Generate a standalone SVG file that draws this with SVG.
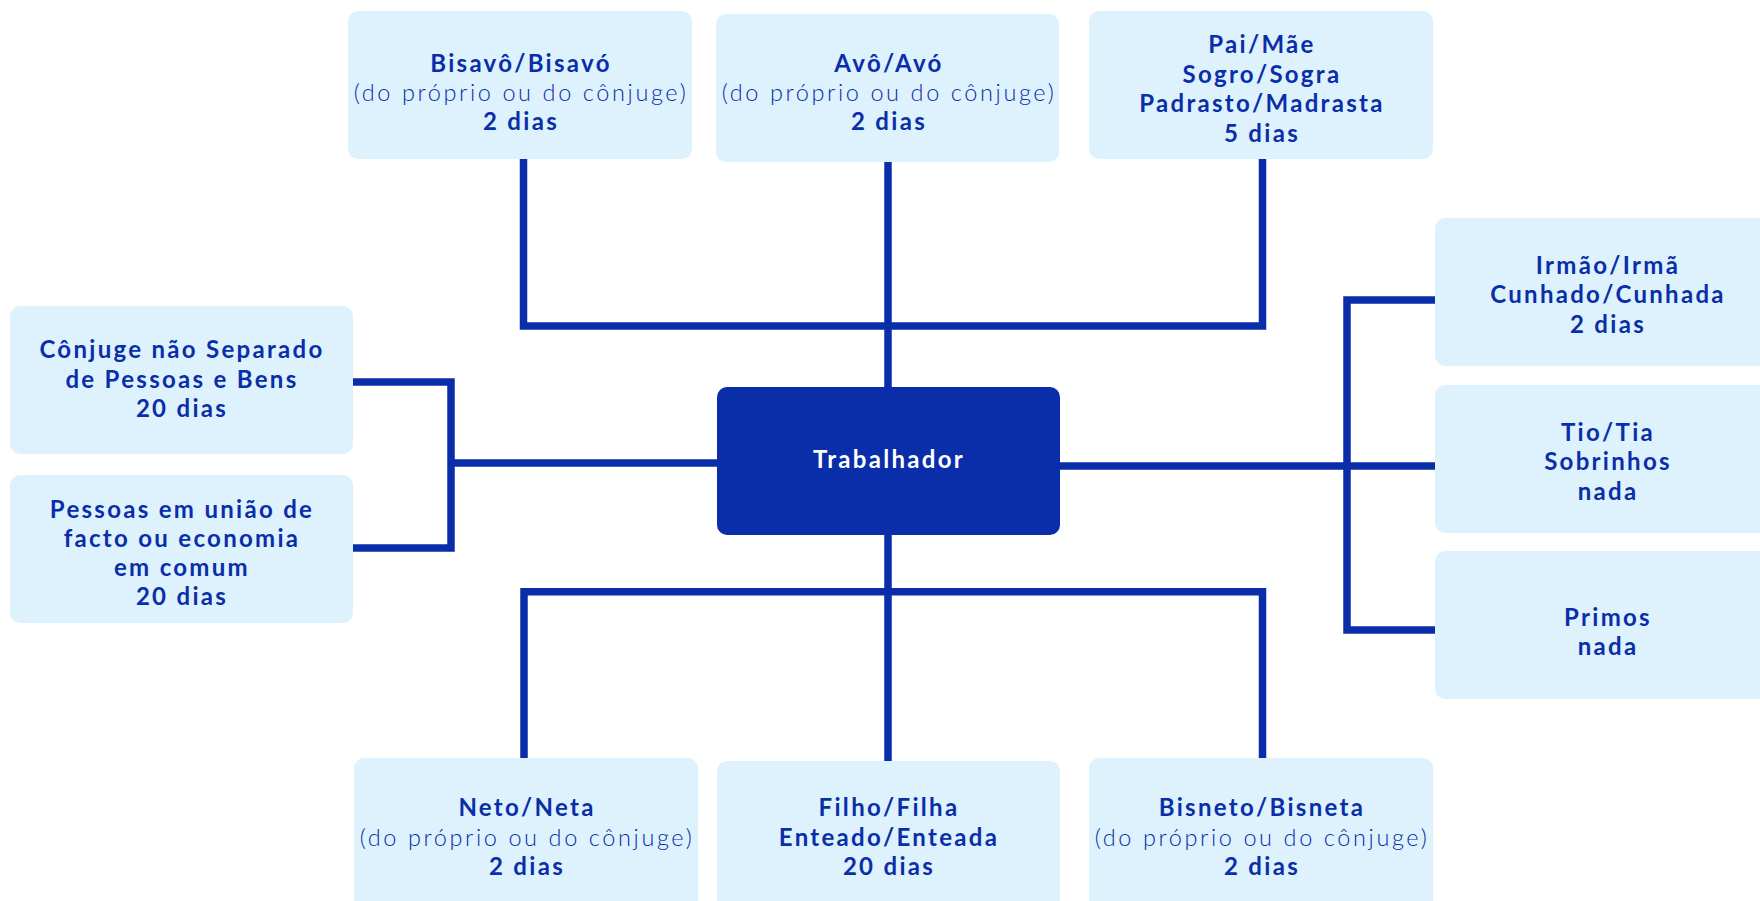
<svg xmlns="http://www.w3.org/2000/svg" width="1760" height="901" viewBox="0 0 1760 901">
<style>
.box{fill:#ddf2fd;}
.main{fill:#0a2ea9;}
.t{font-family:Lato,"Liberation Sans",sans-serif;font-size:24px;font-weight:700;fill:#0a2ea9;text-anchor:middle;letter-spacing:2.3px;}
.l{font-weight:300;font-size:23.5px;letter-spacing:2.6px;}
.w{fill:#ffffff;}
.c{fill:none;stroke:#0a2ea9;stroke-width:7.5;stroke-linejoin:miter;stroke-linecap:butt;}
</style>
<rect width="1760" height="901" fill="#ffffff"/>
<g id="connectors">
<path class="c" d="M523.5 159 V326 H1262.5 V159"/>
<path class="c" d="M888 162 V387"/>
<path class="c" d="M352 382 H451 V548 H352"/>
<path class="c" d="M451 463 H717"/>
<path class="c" d="M1060 466 H1436"/>
<path class="c" d="M1436 300 H1347 V630 H1436"/>
<path class="c" d="M888 535 V761"/>
<path class="c" d="M524 758 V591.7 H1262.5 V758"/>
</g>
<g id="bisavo">
<rect class="box" x="348" y="11" width="344" height="148" rx="10"/>
<text class="t"><tspan x="521" y="72">Bisavô/Bisavó</tspan><tspan class="l" x="521" y="101">(do próprio ou do cônjuge)</tspan><tspan x="521" y="130">2 dias</tspan></text>
</g>
<g id="avo">
<rect class="box" x="716" y="14" width="343" height="148" rx="10"/>
<text class="t"><tspan x="889" y="72">Avô/Avó</tspan><tspan class="l" x="889" y="101">(do próprio ou do cônjuge)</tspan><tspan x="889" y="130">2 dias</tspan></text>
</g>
<g id="pai">
<rect class="box" x="1089" y="11" width="344" height="148" rx="10"/>
<text class="t"><tspan x="1262" y="53">Pai/Mãe</tspan><tspan x="1262" y="83">Sogro/Sogra</tspan><tspan x="1262" y="112">Padrasto/Madrasta</tspan><tspan x="1262" y="142">5 dias</tspan></text>
</g>
<g id="irmao">
<rect class="box" x="1435" y="218" width="340" height="148" rx="10"/>
<text class="t"><tspan x="1608" y="274">Irmão/Irmã</tspan><tspan x="1608" y="303">Cunhado/Cunhada</tspan><tspan x="1608" y="333">2 dias</tspan></text>
</g>
<g id="tio">
<rect class="box" x="1435" y="385" width="340" height="148" rx="10"/>
<text class="t"><tspan x="1608" y="441">Tio/Tia</tspan><tspan x="1608" y="470">Sobrinhos</tspan><tspan x="1608" y="500">nada</tspan></text>
</g>
<g id="primos">
<rect class="box" x="1435" y="551" width="340" height="148" rx="10"/>
<text class="t"><tspan x="1608" y="626">Primos</tspan><tspan x="1608" y="655">nada</tspan></text>
</g>
<g id="conjuge">
<rect class="box" x="10" y="306" width="343" height="148" rx="10"/>
<text class="t"><tspan x="182" y="358">Cônjuge não Separado</tspan><tspan x="182" y="388">de Pessoas e Bens</tspan><tspan x="182" y="417">20 dias</tspan></text>
</g>
<g id="pessoas">
<rect class="box" x="10" y="475" width="343" height="148" rx="10"/>
<text class="t"><tspan x="182" y="518">Pessoas em união de</tspan><tspan x="182" y="547">facto ou economia</tspan><tspan x="182" y="576">em comum</tspan><tspan x="182" y="605">20 dias</tspan></text>
</g>
<g id="trabalhador">
<rect class="main" x="717" y="387" width="343" height="148" rx="10"/>
<text class="t w" x="889" y="468">Trabalhador</text>
</g>
<g id="neto">
<rect class="box" x="354" y="758" width="344" height="160" rx="10"/>
<text class="t"><tspan x="527" y="816">Neto/Neta</tspan><tspan class="l" x="527" y="846">(do próprio ou do cônjuge)</tspan><tspan x="527" y="875">2 dias</tspan></text>
</g>
<g id="filho">
<rect class="box" x="717" y="761" width="343" height="160" rx="10"/>
<text class="t"><tspan x="889" y="816">Filho/Filha</tspan><tspan x="889" y="846">Enteado/Enteada</tspan><tspan x="889" y="875">20 dias</tspan></text>
</g>
<g id="bisneto">
<rect class="box" x="1089" y="758" width="344" height="160" rx="10"/>
<text class="t"><tspan x="1262" y="816">Bisneto/Bisneta</tspan><tspan class="l" x="1262" y="846">(do próprio ou do cônjuge)</tspan><tspan x="1262" y="875">2 dias</tspan></text>
</g>
</svg>
